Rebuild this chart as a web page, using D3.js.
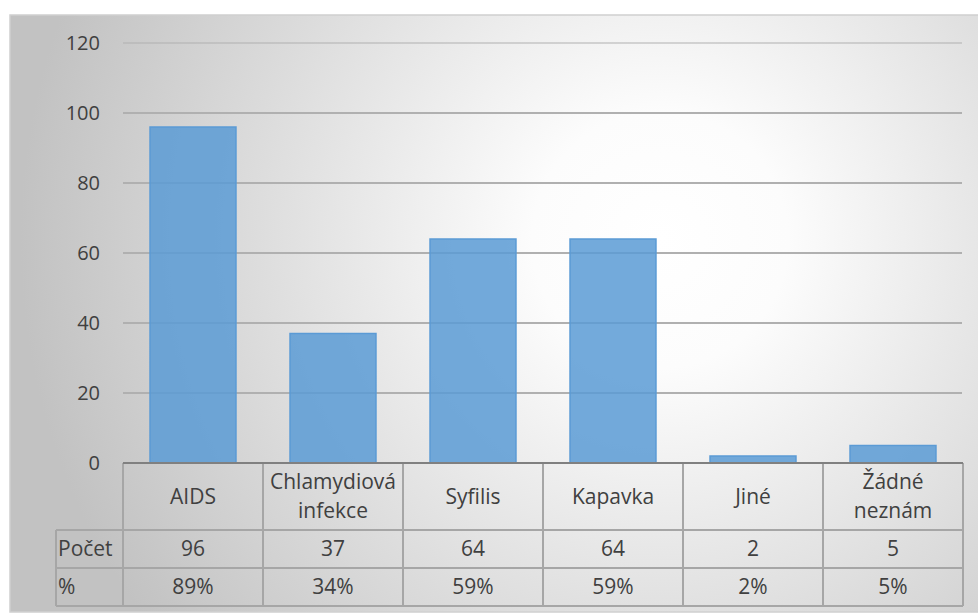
<!DOCTYPE html>
<html>
<head>
<meta charset="utf-8">
<script src="https://cdn.jsdelivr.net/npm/d3@7"></script>
<style>
  body { margin: 0; background: #fff; }
  svg text { font-family: "Open Sans", sans-serif; fill: #404040; }
</style>
</head>
<body>
<div id="chart"></div>
<script>
var categories = ["AIDS", "Chlamydiová\ninfekce", "Syfilis", "Kapavka", "Jiné", "Žádné\nneznám"];
var counts = [96, 37, 64, 64, 2, 5];
var percents = ["89%", "34%", "59%", "59%", "2%", "5%"];
var yTicks = [0, 20, 40, 60, 80, 100, 120];
var rowLabels = ["Počet", "%"];

var width = 978, height = 613;
var margin = { top: 43, left: 123, right: 15, bottom: 150 };
var plotBottom = 463;

var svg = d3.select("#chart").append("svg")
    .attr("width", width)
    .attr("height", height);

// background gradient like the excel chart area
var defs = svg.append("defs");
var grad = defs.append("radialGradient")
    .attr("id", "bg")
    .attr("gradientUnits", "userSpaceOnUse")
    .attr("cx", 660).attr("cy", 240).attr("r", 640);
grad.append("stop").attr("offset", "0%").attr("stop-color", "#ffffff");
grad.append("stop").attr("offset", "20%").attr("stop-color", "#fcfcfc");
grad.append("stop").attr("offset", "100%").attr("stop-color", "#c2c2c2");

svg.append("rect")
    .attr("x", 10).attr("y", 15)
    .attr("width", width).attr("height", 597)
    .attr("fill", "url(#bg)")
    .attr("stroke", "#d0d0d0")
    .attr("stroke-width", 1.5);

var x = d3.scaleBand()
    .domain(categories)
    .range([123, 963])
    .paddingInner(0.386)
    .paddingOuter(0.193);
var colStep = x.step();

var y = d3.scaleLinear()
    .domain([0, 120])
    .range([plotBottom, margin.top]);

// gridlines
svg.append("g")
    .selectAll("line")
    .data(yTicks.filter(function(d) { return d > 0; }))
    .enter().append("line")
    .attr("x1", 123).attr("x2", 962)
    .attr("y1", function(d) { return y(d); })
    .attr("y2", function(d) { return y(d); })
    .attr("stroke", "#b0b0b0")
    .attr("stroke-opacity", function(d) { return d == 120 ? 0.5 : 1; })
    .attr("stroke-width", 2);

// y axis labels
var yAxis = d3.axisLeft(y).tickValues(yTicks).tickSize(0).tickPadding(0);
var gy = svg.append("g")
    .attr("transform", "translate(100,0)")
    .call(yAxis);
gy.select(".domain").remove();
gy.selectAll("text")
    .style("font-size", "20px")
    .style("font-family", "'Open Sans', sans-serif")
    .attr("fill", "#404040");

// bars
svg.append("g")
    .selectAll("rect")
    .data(counts)
    .enter().append("rect")
    .attr("x", function(d, i) { return x(categories[i]); })
    .attr("width", x.bandwidth())
    .attr("y", function(d) { return y(d); })
    .attr("height", function(d) { return y(0) - y(d); })
    .attr("fill", "#5b9bd5")
    .attr("fill-opacity", 0.85)
    .attr("stroke", "#5b9bd5")
    .attr("stroke-width", 1.5);

// data table
var rowY = [plotBottom, 530, 568, 606];
var tableLeft = 56, tableRight = 123 + colStep * categories.length;
var table = svg.append("g");

// horizontal lines
table.selectAll("line.h")
    .data(rowY.slice(1))
    .enter().append("line")
    .attr("class", "h")
    .attr("x1", tableLeft).attr("x2", tableRight)
    .attr("y1", function(d) { return d; })
    .attr("y2", function(d) { return d; })
    .attr("stroke", "#a6a6a6")
    .attr("stroke-width", 2);

// vertical lines
var colEdges = d3.range(categories.length + 1).map(function(i) { return 123 + i * colStep; });
table.selectAll("line.v")
    .data(colEdges)
    .enter().append("line")
    .attr("class", "v")
    .attr("x1", function(d) { return d; })
    .attr("x2", function(d) { return d; })
    .attr("y1", plotBottom)
    .attr("y2", rowY[3])
    .attr("stroke", "#a6a6a6")
    .attr("stroke-width", 2);
table.append("line")
    .attr("x1", tableLeft).attr("x2", tableLeft)
    .attr("y1", rowY[1]).attr("y2", rowY[3])
    .attr("stroke", "#a6a6a6")
    .attr("stroke-width", 2);

// axis line on top of table
svg.append("line")
    .attr("x1", 123).attr("x2", tableRight)
    .attr("y1", plotBottom).attr("y2", plotBottom)
    .attr("stroke", "#808080")
    .attr("stroke-width", 2);

// category header text
var headers = table.selectAll("text.cat")
    .data(categories)
    .enter().append("text")
    .attr("class", "cat")
    .attr("text-anchor", "middle")
    .style("font-size", "21px")
    .attr("transform", function(d) {
        return "translate(" + (x(d) + x.bandwidth() / 2) + "," + ((rowY[0] + rowY[1]) / 2) + ")";
    });
headers.each(function(d) {
    var lines = d.split("\n");
    var t = d3.select(this);
    lines.forEach(function(l, j) {
        t.append("tspan")
            .attr("x", 0)
            .attr("y", (j - (lines.length - 1) / 2) * 29)
            .attr("dy", "0.35em")
            .text(l);
    });
});

// row labels
table.selectAll("text.row")
    .data(rowLabels)
    .enter().append("text")
    .attr("class", "row")
    .attr("x", tableLeft + 2)
    .attr("y", function(d, i) { return (rowY[i + 1] + rowY[i + 2]) / 2; })
    .attr("dy", "0.35em")
    .style("font-size", "21px")
    .text(function(d) { return d; });

// values
[counts, percents].forEach(function(row, r) {
    table.selectAll("text.val" + r)
        .data(row)
        .enter().append("text")
        .attr("class", "val" + r)
        .attr("text-anchor", "middle")
        .attr("x", function(d, i) { return x(categories[i]) + x.bandwidth() / 2; })
        .attr("y", (rowY[r + 1] + rowY[r + 2]) / 2)
        .attr("dy", "0.35em")
        .style("font-size", "21px")
        .text(function(d) { return d; });
});
</script>
</body>
</html>
